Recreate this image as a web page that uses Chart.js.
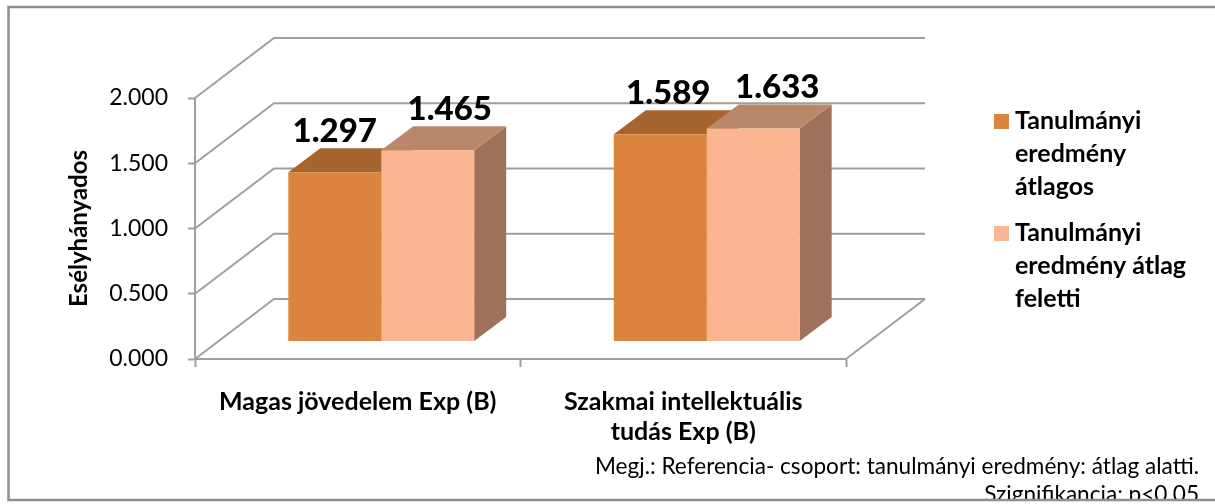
<!DOCTYPE html>
<html>
<head>
<meta charset="utf-8">
<style>
  html, body { margin: 0; padding: 0; background: #fff; }
  #wrap { width: 1215px; height: 504px; }
</style>
<script src="https://cdn.jsdelivr.net/npm/chart.js@4"></script>
</head>
<body>
<div id="wrap"><canvas id="chart"></canvas></div>
<script>
// ---------- Data ----------
const categories = ["Magas jövedelem Exp (B)", ["Szakmai intellektuális", "tudás Exp (B)"]];
const seriesNames = ["Tanulmányi eredmény átlagos", "Tanulmányi eredmény átlag feletti"];
const averageValues = [1.297, 1.589];
const aboveAverageValues = [1.465, 1.633];
const yTicks = [0, 0.5, 1, 1.5, 2];
const legendLines = [["Tanulmányi", "eredmény", "átlagos"], ["Tanulmányi", "eredmény átlag", "feletti"]];
const noteLines = ["Megj.: Referencia- csoport: tanulmányi eredmény: átlag alatti.", "Szignifikancia: p<0.05"];

// ---------- Look ----------
const FONT = "Lato, 'Open Sans', sans-serif";
const GREY = "#9f9f9f";
const FRONT = ["#db843d", "#fbb590"];
const TOP = ["#a6652e", "#bb876b"];
const SIDE = ["#a6652e", "#a0715a"];

// 3D offsets of the Excel style box
const WALL = { dx: 79, dy: -60 };
const BAR_SHIFT = { dx: 23.5, dy: -17.5 };
const BAR_DEPTH = { dx: 32, dy: -24 };
// labels sit a bit off-centre in the original, [series][category]
const LABEL_NUDGE = [[0, 8], [22, 24]];

function poly(ctx, pts, fill) {
  ctx.beginPath();
  pts.forEach((p, i) => (i ? ctx.lineTo(p[0], p[1]) : ctx.moveTo(p[0], p[1])));
  ctx.closePath();
  ctx.fillStyle = fill;
  ctx.fill();
}

// back wall, side wall lines and floor, then bar tops and sides
const box3d = {
  id: "box3d",
  beforeDatasetsDraw(chart) {
    const { ctx, chartArea: area, scales } = chart;
    ctx.save();
    ctx.strokeStyle = GREY;
    ctx.lineWidth = 2;
    scales.y.ticks.forEach(t => {
      const y = scales.y.getPixelForValue(t.value);
      ctx.beginPath();
      ctx.moveTo(area.left, y);
      ctx.lineTo(area.left + WALL.dx, y + WALL.dy);
      ctx.lineTo(area.right + WALL.dx, y + WALL.dy);
      ctx.stroke();
    });
    const y0 = scales.y.getPixelForValue(0);
    ctx.beginPath();
    ctx.moveTo(area.right, y0);
    ctx.lineTo(area.right + WALL.dx, y0 + WALL.dy);
    ctx.stroke();
    ctx.restore();

    ctx.save();
    ctx.translate(BAR_SHIFT.dx, BAR_SHIFT.dy);
    categories.forEach((c, k) => {
      chart.data.datasets.forEach((ds, i) => {
        const bar = chart.getDatasetMeta(i).data[k];
        const l = bar.x - bar.width / 2;
        const r = bar.x + bar.width / 2;
        const d = BAR_DEPTH;
        poly(ctx, [[r, bar.y], [r + d.dx, bar.y + d.dy], [r + d.dx, bar.base + d.dy], [r, bar.base]], SIDE[i]);
        poly(ctx, [[l, bar.y], [l + d.dx, bar.y + d.dy], [r + d.dx, bar.y + d.dy], [r, bar.y]], TOP[i]);
      });
    });
    // restored in afterDatasetsDraw so the library bars get the same shift
  },
  afterDatasetsDraw(chart) {
    const { ctx } = chart;
    ctx.fillStyle = "#000";
    ctx.font = "900 33px " + FONT;
    ctx.textAlign = "center";
    ctx.textBaseline = "alphabetic";
    chart.data.datasets.forEach((ds, i) => {
      chart.getDatasetMeta(i).data.forEach((bar, k) => {
        ctx.fillText(ds.data[k].toFixed(3), bar.x + LABEL_NUDGE[i][k], bar.y - 30);
      });
    });
    ctx.restore();
  }
};

// legend, note and outer frame
const extras = {
  id: "extras",
  afterDraw(chart) {
    const { ctx, width, height } = chart;
    ctx.save();
    ctx.textBaseline = "middle";
    ctx.textAlign = "left";
    ctx.font = "bold 25px " + FONT;
    legendLines.forEach((lines, i) => {
      const top = 114 + i * 112;
      ctx.fillStyle = FRONT[i];
      ctx.fillRect(994, top, 15, 15);
      ctx.fillStyle = "#000";
      lines.forEach((line, j) => ctx.fillText(line, 1015, top + 7 + j * 33));
    });

    ctx.textBaseline = "alphabetic";
    ctx.textAlign = "right";
    ctx.font = "22.6px " + FONT;
    ctx.fillStyle = "#000";
    ctx.fillText(noteLines[0], 1199, 474);
    ctx.fillText(noteLines[1], 1199, 502);

    // frame is open on the right, the note runs into its lower edge
    ctx.fillStyle = "#fff";
    ctx.fillRect(0, 501, width, height - 501);
    ctx.strokeStyle = "#8f8f8f";
    ctx.lineWidth = 2.5;
    ctx.beginPath();
    ctx.moveTo(width, 7);
    ctx.lineTo(8.5, 7);
    ctx.lineTo(8.5, 500);
    ctx.lineTo(width, 500);
    ctx.stroke();
    ctx.restore();
  }
};

// ---------- Chart ----------
new Chart(document.getElementById("chart"), {
  type: "bar",
  data: {
    labels: categories,
    datasets: [
      { label: seriesNames[0], data: averageValues, backgroundColor: FRONT[0], clip: false },
      { label: seriesNames[1], data: aboveAverageValues, backgroundColor: FRONT[1], clip: false },
    ],
  },
  options: {
    responsive: true,
    maintainAspectRatio: false,
    animation: false,
    layout: { padding: { left: 62, right: 369, top: 98, bottom: 20 } },
    datasets: { bar: { categoryPercentage: 0.571, barPercentage: 1 } },
    plugins: {
      legend: { display: false },
      tooltip: { enabled: false },
    },
    scales: {
      x: {
        afterFit: s => { s.height = 125; },
        border: { color: GREY, width: 2 },
        grid: { drawOnChartArea: false, tickColor: GREY, tickWidth: 2, tickLength: 8 },
        ticks: {
          color: "#000",
          maxRotation: 0,
          padding: 20,
          font: { family: FONT, size: 25, weight: "bold", lineHeight: 1.2 },
        },
      },
      y: {
        min: 0,
        max: 2,
        afterBuildTicks: s => { s.ticks = yTicks.map(v => ({ value: v })); },
        afterFit: s => { s.width = 133; },
        border: { color: GREY, width: 2 },
        grid: { drawOnChartArea: false, tickColor: GREY, tickWidth: 2, tickLength: 7 },
        title: {
          display: true,
          text: "Esélyhányados",
          color: "#000",
          padding: { top: 3, bottom: 0 },
          font: { family: FONT, size: 24, weight: "bold" },
        },
        ticks: {
          color: "#000",
          padding: 20,
          callback: v => v.toFixed(3),
          font: { family: FONT, size: 23 },
        },
      },
    },
  },
  plugins: [box3d, extras],
});
</script>
</body>
</html>
